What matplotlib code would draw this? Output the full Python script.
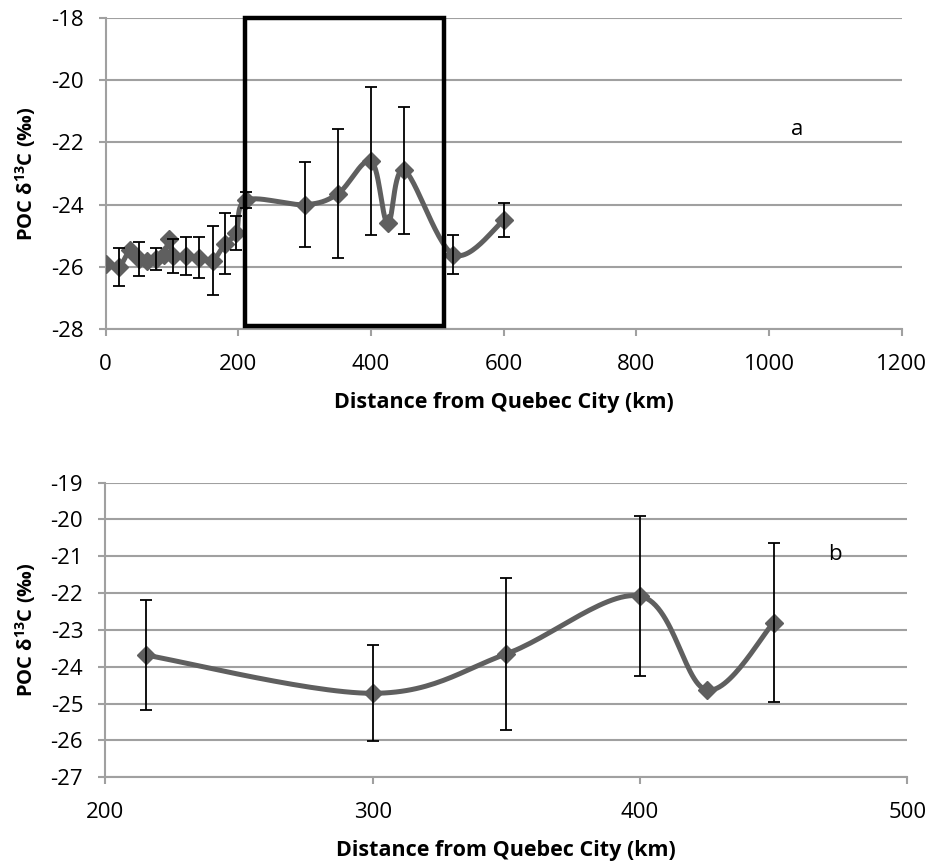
import numpy as np
import matplotlib
matplotlib.use("Agg")
import matplotlib.pyplot as plt
from matplotlib.patches import Rectangle

plt.rcParams['font.family'] = ['Open Sans', 'DejaVu Sans']
plt.rcParams['mathtext.fontset'] = 'custom'
plt.rcParams['mathtext.bf'] = 'Open Sans:bold'
plt.rcParams['mathtext.rm'] = 'Open Sans'
plt.rcParams['axes.unicode_minus'] = False

# panel a: whole transect
dist_a = [0, 20, 37, 50, 63, 76, 88, 96, 102, 121, 141, 161, 180, 197, 212,
          300, 350, 400, 425, 450, 524, 600]
d13c_a = [-25.9, -26.0, -25.45, -25.75, -25.8, -25.75, -25.6, -25.1, -25.65, -25.65,
          -25.7, -25.8, -25.25, -24.9, -23.85, -24.0, -23.65, -22.6, -24.6, -22.9,
          -25.6, -24.5]
err_a = [0, 0.62, 0, 0.55, 0, 0.36, 0, 0, 0.55, 0.6, 0.65, 1.1, 0.97, 0.55, 0.27,
         1.37, 2.07, 2.37, 0, 2.05, 0.62, 0.55]

# panel b: zoom on the boxed section
dist_b = [215, 300, 350, 400, 425, 450]
d13c_b = [-23.68, -24.72, -23.65, -22.08, -24.63, -22.8]
err_b = [1.5, 1.3, 2.07, 2.18, 0, 2.15]

line_col = '#5f5f5f'
grid_col = '#a0a0a0'


def smooth_line(ax, x, y, n=30):
    # excel-like smoothed line: catmull-rom bezier computed in pixel space
    pts = ax.transData.transform(np.column_stack([x, y]))
    p = np.vstack([pts[0], pts, pts[-1]])
    out = []
    t = np.linspace(0, 1, n)[:, None]
    for i in range(1, len(p) - 2):
        p0, p1, p2, p3 = p[i - 1], p[i], p[i + 1], p[i + 2]
        c1 = p1 + (p2 - p0) / 6
        c2 = p2 - (p3 - p1) / 6
        seg = ((1 - t) ** 3) * p1 + 3 * ((1 - t) ** 2) * t * c1 + 3 * (1 - t) * t ** 2 * c2 + t ** 3 * p2
        out.append(seg)
    curve = ax.transData.inverted().transform(np.vstack(out))
    return curve[:, 0], curve[:, 1]


def style_axes(ax, xlim, xticks, ylim, yticks):
    ax.set_xlim(*xlim)
    ax.set_ylim(*ylim)
    ax.set_xticks(xticks)
    ax.set_yticks(yticks)
    ax.yaxis.grid(True, color=grid_col, linewidth=1.5)
    ax.set_axisbelow(True)
    for s in ['top', 'right']:
        ax.spines[s].set_visible(False)
    for s in ['left', 'bottom']:
        ax.spines[s].set_color(grid_col)
        ax.spines[s].set_linewidth(1.5)
    ax.tick_params(direction='out', length=5, width=1.5, color=grid_col,
                   labelsize=16)
    ax.tick_params(axis='y', pad=11)
    ax.tick_params(axis='x', pad=13)
    ax.set_xlabel('Distance from Quebec City (km)', fontsize=15.5,
                  fontweight='bold', labelpad=12)
    ax.set_ylabel(r'POC δ$\mathbf{^{13}}$C (‰)', fontsize=14.5,
                  fontweight='bold', labelpad=9)


def draw_series(ax, x, y, err):
    xs, ys = smooth_line(ax, x, y)
    ax.plot(xs, ys, color=line_col, linewidth=3.6, zorder=3, solid_capstyle='round')
    ax.plot(x, y, linestyle='none', marker='D', markersize=9.5,
            color=line_col, zorder=4)
    xe = [a for a, e in zip(x, err) if e > 0]
    ye = [b for b, e in zip(y, err) if e > 0]
    ee = [e for e in err if e > 0]
    ax.errorbar(xe, ye, yerr=ee, fmt='none', ecolor='black', elinewidth=1.3,
                capsize=4, capthick=1.3, zorder=5)


fig = plt.figure(figsize=(9.32, 8.67), dpi=100)

ax1 = fig.add_axes([0.1134, 0.6202, 0.8543, 0.3593])
style_axes(ax1, (0, 1200), range(0, 1201, 200), (-28, -18), range(-28, -17, 2))
draw_series(ax1, dist_a, d13c_a, err_a)
ax1.add_patch(Rectangle((210, -27.9), 300, 9.9, fill=False, edgecolor='black',
                        linewidth=3.2, clip_on=False, zorder=6))
ax1.text(1042, -21.6, 'a', fontsize=16, ha='center', va='center')

ax2 = fig.add_axes([0.1131, 0.1035, 0.8604, 0.3398])
style_axes(ax2, (200, 500), range(200, 501, 100), (-27, -19), range(-27, -18, 1))
draw_series(ax2, dist_b, d13c_b, err_b)
ax2.text(473, -20.96, 'b', fontsize=16, ha='center', va='center')

fig.savefig('out.png', dpi=100)
